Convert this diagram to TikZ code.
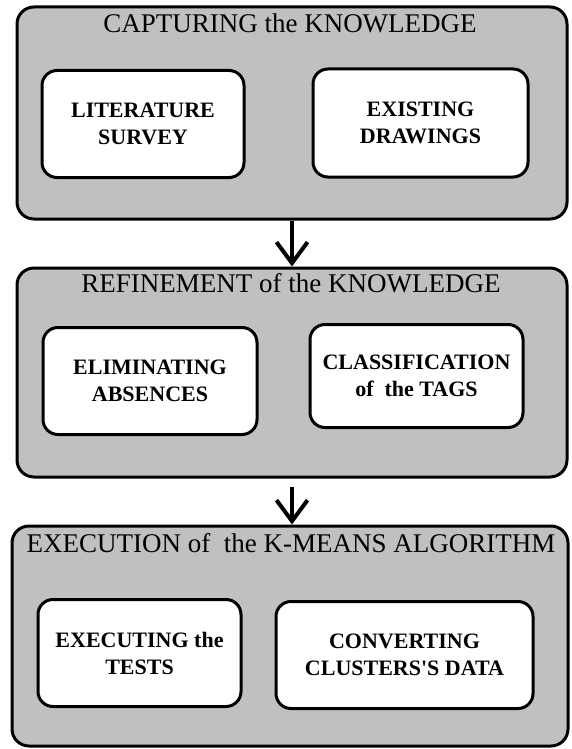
\documentclass[tikz,border=0pt]{standalone}
\usepackage{fontspec}
\setmainfont{Liberation Serif}
\newfontfamily\straightquote{Liberation Serif}[Ligatures=TeXOff]
\usetikzlibrary{arrows.meta}

\begin{document}
\begin{tikzpicture}[x=1pt,y=-1pt]
\tikzstyle{every node}+=[inner sep=0pt]
\tikzstyle{stagebox}=[draw=black,line width=3pt,fill=stagegray,rounded corners=17pt]
\tikzstyle{taskbox}=[draw=black,line width=3pt,fill=white,rounded corners=15pt,align=center,font=\fontsize{22}{27}\selectfont\bfseries]
\tikzstyle{stagetitle}=[anchor=base,font=\fontsize{27}{30}\selectfont]
\tikzstyle{flowarrow}=[line width=4pt,-{Straight Barb[length=21pt,width=31pt]}]
\definecolor{stagegray}{RGB}{192,192,192}
\useasboundingbox (0,0) rectangle (571,749);
\node [stagebox,minimum width=550pt,minimum height=212pt] (capture) at (292,113) {};
\node [stagebox,minimum width=550pt,minimum height=209pt] (refine) at (292,372.5) {};
\node [stagebox,minimum width=556pt,minimum height=220pt] (execute) at (290,636) {};
\node [stagetitle] (capturetitle) at (290,33) {CAPTURING the KNOWLEDGE};
\node [stagetitle] (refinetitle) at (291,292) {REFINEMENT of the KNOWLEDGE};
\node [stagetitle] (executetitle) at (291,552) {EXECUTION of\ \ the K-MEANS ALGORITHM};
\node [taskbox,minimum width=202pt,minimum height=107pt] (survey) at (143,124) {LITERATURE\\SURVEY};
\node [taskbox,minimum width=215pt,minimum height=108pt] (drawings) at (420.5,123) {EXISTING\\DRAWINGS};
\node [taskbox,minimum width=214pt,minimum height=107pt] (absences) at (150,381) {ELIMINATING\\ABSENCES};
\node [taskbox,minimum width=213pt,minimum height=103pt] (tags) at (416.5,376) {CLASSIFICATION\\of\ \ the TAGS};
\node [taskbox,minimum width=203pt,minimum height=107pt] (tests) at (139.5,653) {EXECUTING the\\TESTS};
\node [taskbox,minimum width=257pt,minimum height=107pt] (clusters) at (404.5,655) {CONVERTING\\CLUSTERS{\straightquote\bfseries '}S DATA};
\draw [flowarrow,xshift=-4pt] (capture.south) -- (refine.north);
\draw [flowarrow,xshift=-4pt,shorten <=8pt] (refine.south) -- (execute.north -| refine.south);
\end{tikzpicture}
\end{document}
